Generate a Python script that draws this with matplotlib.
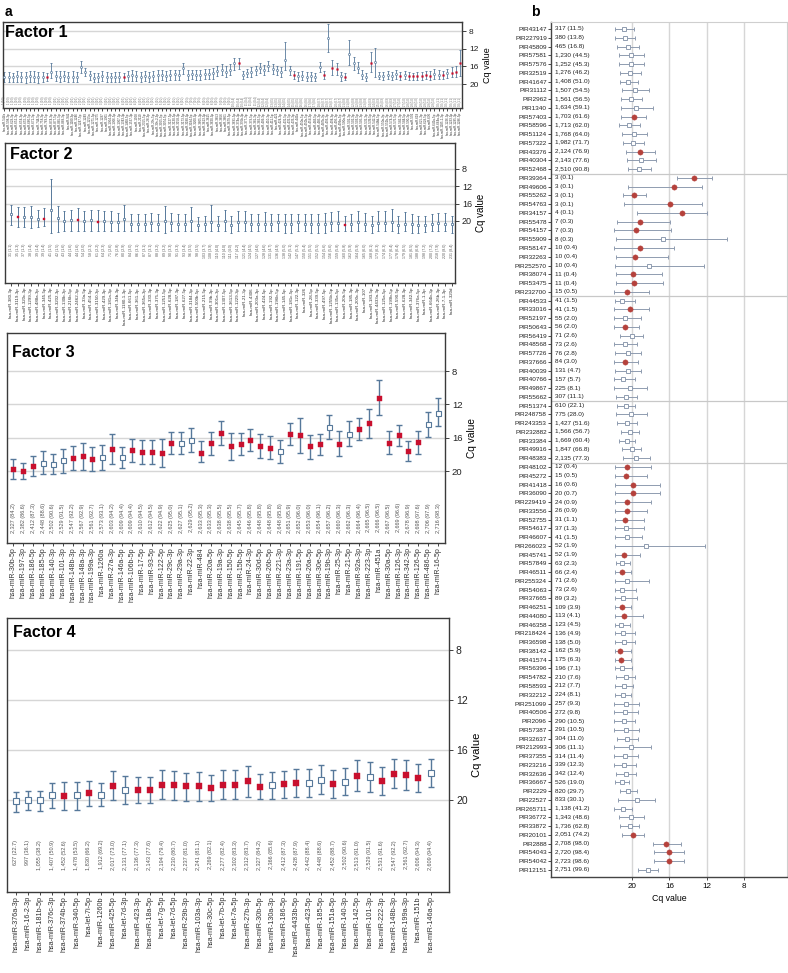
"""
Cq values of candidate reference miRNAs (factor panels) and piRNAs (panel b)
"""

### Import modules
import numpy as np
import matplotlib.pyplot as plt
import matplotlib.transforms as mtransforms

plt.rcParams['font.family'] = ['Liberation Sans', 'DejaVu Sans']

### Colours
RED = '#c8102e'
STEEL = '#56789a'
GRID = '#d6d6d6'
BRED = '#b5413b'
BGREY = '#8f9cb0'

###########################################################################
### Factor 1
f1_names = ('hsa-miR-544a hsa-miR-598-3p hsa-miR-628-3p hsa-miR-652-3p hsa-miR-654-3p '
            'hsa-miR-655-3p hsa-miR-660-5p hsa-miR-671-3p hsa-miR-744-5p hsa-miR-758-3p '
            'hsa-miR-769-5p hsa-miR-874-3p hsa-miR-877-5p hsa-miR-885-5p hsa-miR-889-3p '
            'hsa-miR-941 hsa-miR-1180-3p hsa-miR-1246 hsa-miR-1247-5p hsa-miR-1249 '
            'hsa-miR-1255a hsa-miR-1271-5p hsa-miR-1275 hsa-miR-1287 hsa-miR-1301 '
            'hsa-miR-1304-3p hsa-miR-1306-5p hsa-miR-1307-3p hsa-miR-1343-3p hsa-miR-1468-5p '
            'hsa-miR-1537-3p hsa-miR-1908 hsa-miR-2110 hsa-miR-2355-5p hsa-miR-28-3p '
            'hsa-miR-29c-5p hsa-miR-30c-2-3p hsa-miR-3065-5p hsa-miR-3074-5p hsa-miR-3127-5p '
            'hsa-miR-3130-5p hsa-miR-3158-3p hsa-miR-3173-5p hsa-miR-3180-3p hsa-miR-3184-5p '
            'hsa-miR-3200-3p hsa-miR-3605-3p hsa-miR-3613-3p hsa-miR-3615 hsa-miR-3620-3p '
            'hsa-miR-3653 hsa-miR-3656 hsa-miR-3661 hsa-miR-3679-5p hsa-miR-3691-5p '
            'hsa-miR-374a-3p hsa-miR-376b-3p hsa-miR-377-3p hsa-miR-379-5p hsa-miR-381-3p '
            'hsa-miR-382-5p hsa-miR-409-3p hsa-miR-410-3p hsa-miR-411-5p hsa-miR-421 '
            'hsa-miR-424-3p hsa-miR-431-5p hsa-miR-432-5p hsa-miR-433-3p hsa-miR-449a '
            'hsa-miR-450a-5p hsa-miR-450b-5p hsa-miR-454-3p hsa-miR-483-5p hsa-miR-485-3p '
            'hsa-miR-487b-3p hsa-miR-493-3p hsa-miR-494-3p hsa-miR-495-3p hsa-miR-499a-5p '
            'hsa-miR-500a-3p hsa-miR-501-3p hsa-miR-502-3p hsa-miR-503-5p hsa-miR-505-3p '
            'hsa-miR-532-3p hsa-miR-539-5p hsa-miR-542-3p hsa-miR-548d-5p hsa-miR-550a-3p '
            'hsa-miR-551b-3p hsa-miR-574-3p hsa-miR-576-5p hsa-miR-582-3p hsa-miR-584-5p '
            'hsa-miR-590-3p hsa-miR-592 hsa-miR-618 hsa-miR-625-3p hsa-miR-629-5p '
            'hsa-miR-636 hsa-miR-642a-5p hsa-miR-664a-3p hsa-miR-1185-1-3p hsa-miR-1226-3p '
            'hsa-miR-1233-3p hsa-miR-1285-3p hsa-miR-1296-5p').split()
f1_counts = [1,1,1,1,1,1,1,1,1,1,1,1,2,2,2,2,2,2,2,2,2,3,3,3,3,3,3,3,4,4,4,4,4,4,
             5,5,5,5,5,6,6,6,6,7,7,7,7,8,8,8,8,9,9,9,10,10,10,11,11,11,12,12,12,
             13,13,14,14,14,15,15,16,16,17,17,18,18,19,19,20,20,21,21,22,22,23,23,
             24,24,25,25,26,26,27,27,27,28,28,28,29,29,29,29,30,30,30,30,30,30]
f1_cq = [18.4,18.3,18.4,18.2,18.3,18.4,18.2,18.3,18.4,18.3,18.3,17.2,18.2,18.3,18.2,18.3,
         18.3,18.4,16.1,17.2,18.0,18.6,18.4,18.1,18.3,18.5,18.4,18.3,18.4,18.1,18.0,18.2,
         18.3,18.2,18.3,18.1,18.0,17.9,18.1,18.0,17.8,17.9,16.4,17.9,17.8,18.0,17.9,17.8,
         17.7,17.6,17.0,16.7,17.2,16.8,15.3,15.3,17.9,17.5,17.2,16.8,16.4,16.8,15.9,16.6,
         16.9,17.2,14.6,16.8,17.9,18.2,18.1,18.3,18.2,18.3,16.1,17.9,9.5,16.4,16.6,18.2,
         18.3,13.1,15.3,16.4,17.9,18.3,15.3,14.9,18.1,18.2,18.0,18.2,17.8,18.1,18.0,18.2,
         18.2,18.1,18.2,18.0,18.1,17.7,17.9,18.0,17.6,17.4,17.2,15.2]
f1_lo = [17.3,17.2,17.4,17.1,17.2,17.3,17.0,17.0,17.3,17.2,17.4,15.3,17.0,17.1,17.0,17.2,
         17.1,17.3,14.8,16.4,17.0,17.6,17.4,17.1,17.2,17.4,17.3,17.3,17.5,17.0,16.9,17.1,
         17.2,17.0,17.2,17.0,16.8,16.8,17.0,16.9,16.7,16.8,15.2,16.8,16.7,16.9,16.8,16.6,
         16.5,16.4,15.8,15.4,16.0,15.5,14.0,14.1,17.0,16.5,16.1,15.8,15.3,15.7,14.8,15.5,
         15.8,16.1,10.4,15.9,17.0,17.2,17.1,17.3,17.2,17.4,14.9,17.0,6.4,14.6,15.2,17.2,
         17.6,10.0,13.8,15.0,16.9,17.4,12.7,11.9,17.3,17.3,17.1,17.3,16.9,17.2,17.0,17.3,
         17.4,17.2,17.3,17.1,17.1,16.6,16.9,17.1,16.5,16.2,16.0,12.3]
f1_hi = [19.6,19.5,19.6,19.5,19.6,19.7,19.5,19.6,19.7,19.5,19.4,18.7,19.4,19.5,19.4,19.5,
         19.6,19.6,17.6,18.2,19.0,19.6,19.5,19.3,19.5,19.6,19.6,19.5,19.4,19.2,19.2,19.3,
         19.5,19.4,19.5,19.3,19.2,19.1,19.3,19.1,19.0,19.0,17.7,19.1,18.9,19.1,19.0,18.9,
         18.9,18.8,18.2,18.0,18.4,18.0,16.8,16.6,18.8,18.5,18.3,17.9,17.6,17.9,17.1,17.8,
         18.0,18.4,16.8,17.9,18.9,19.2,19.1,19.3,19.2,19.3,17.3,18.8,12.7,18.0,18.0,19.2,
         19.0,15.7,16.8,17.6,18.9,19.2,17.2,18.3,18.9,19.0,18.9,19.1,18.8,19.0,18.9,19.1,
         19.0,19.0,19.1,18.9,19.0,18.8,18.9,18.8,18.6,18.5,18.4,18.2]
f1_red = [10,28,55,68,75,77,78,80,86,93,95,96,97,98,99,100,103,105,106,107]

### Factor 2
f2_names = ('hsa-miR-380-3p hsa-miR-3119-3p hsa-miR-320c-3p hsa-miR-1299-3p hsa-miR-488a-3p '
            'hsa-miR-345-5p hsa-miR-425-3p hsa-miR-3202-3p hsa-miR-130b-3p hsa-miR-216b-5p '
            'hsa-miR-2462-3p hsa-miR-33a-5p hsa-miR-454-5p hsa-miR-3150-3p hsa-miR-429-3p '
            'hsa-miR-181a-3p hsa-miR-34b-3p hsa-miR-1180-1-3p hsa-miR-661-5p hsa-miR-361-3p '
            'hsa-miR-365a-3p hsa-miR-330-3p hsa-miR-375-3p hsa-miR-1251-5p hsa-miR-628-5p '
            'hsa-miR-187-3p hsa-miR-627-5p hsa-miR-3184-3p hsa-miR-500b-5p hsa-miR-215-5p '
            'hsa-miR-99b-3p hsa-miR-301a-3p hsa-miR-1307-5p hsa-miR-3613-5p hsa-miR-1229-3p '
            'hsa-miR-21-3p hsa-miR-4306 hsa-miR-203a-3p hsa-miR-424-5p hsa-miR-192-5p '
            'hsa-miR-196b-5p hsa-miR-145-5p hsa-miR-181c-5p hsa-miR-122-3p hsa-miR-326 '
            'hsa-miR-28-5p hsa-miR-339-5p hsa-miR-497-5p hsa-miR-1255b-5p hsa-miR-135a-5p '
            'hsa-miR-20b-5p hsa-miR-185-3p hsa-miR-200c-3p hsa-miR-107 hsa-miR-183-5p '
            'hsa-miR-4433a-3p hsa-miR-125a-5p hsa-miR-199b-5p hsa-miR-590-5p hsa-miR-628-3p '
            'hsa-miR-342-5p hsa-miR-376a-5p hsa-miR-1-3p hsa-miR-664b-3p hsa-miR-26b-3p '
            'hsa-miR-7-1-3p hsa-miR-320d').split()
f2_vals = ['31 (1.1)','35 (1.3)','37 (1.3)','38 (1.4)','39 (1.4)','39 (1.4)','41 (1.5)',
           '42 (1.5)','43 (1.6)','44 (1.6)','44 (1.6)','54 (2.0)','58 (2.1)','61 (2.2)',
           '64 (2.3)','71 (2.6)','76 (2.8)','80 (2.9)','84 (3.0)','86 (3.1)','87 (3.1)',
           '87 (3.1)','88 (3.2)','89 (3.2)','90 (3.3)','91 (3.3)','93 (3.4)','96 (3.5)',
           '98 (3.5)','103 (3.7)','108 (3.9)','110 (4.0)','110 (4.0)','111 (4.0)','117 (4.2)',
           '121 (4.4)','124 (4.5)','127 (4.6)','128 (4.6)','131 (4.7)','136 (4.9)','138 (5.0)',
           '142 (5.1)','147 (5.3)','150 (5.4)','151 (5.5)','152 (5.5)','154 (5.6)','156 (5.6)',
           '159 (5.8)','160 (5.8)','162 (5.9)','164 (5.9)','165 (6.0)','168 (6.1)','173 (6.3)',
           '174 (6.3)','177 (6.4)','178 (6.4)','179 (6.5)','181 (6.5)','188 (6.8)','198 (7.2)',
           '200 (7.2)','218 (7.9)','220 (8.0)','231 (8.4)']
f2_cq = [18.5,19.2,19.1,19.2,19.6,19.5,17.4,19.3,19.9,19.8,19.8,20.0,19.8,20.2,20.0,20.2,
         20.3,19.5,20.6,20.6,20.6,20.4,20.6,19.9,20.4,20.6,20.6,19.9,21.0,20.8,20.2,21.0,
         19.9,21.0,20.2,20.2,20.6,20.6,20.6,20.6,20.2,20.6,20.8,20.2,20.6,20.8,20.8,20.8,
         20.4,20.4,21.0,20.6,20.2,20.6,21.0,20.4,20.4,20.2,21.0,20.6,20.8,21.0,21.0,20.6,
         20.4,20.6,20.8]
f2_lo = [16.4,16.8,16.7,16.6,17.4,17.0,10.3,16.6,17.7,17.5,17.1,17.7,17.4,17.5,17.7,17.7,
         18.1,16.3,18.5,18.3,18.3,18.1,18.3,16.6,18.1,18.4,18.3,16.8,19.1,18.8,16.4,18.9,
         17.4,18.9,17.7,17.7,18.4,18.4,17.9,18.3,18.3,18.3,18.5,18.3,18.3,18.5,18.3,18.1,
         17.9,17.7,18.9,18.3,17.7,18.1,18.8,17.7,17.7,17.3,18.8,17.9,18.5,18.8,18.8,18.5,
         18.1,18.1,18.8]
f2_hi = [21.0,21.4,21.4,21.6,21.3,21.2,22.7,22.5,22.4,22.3,22.3,22.4,22.3,22.4,22.3,22.4,
         22.4,22.4,22.4,22.4,22.4,22.3,22.4,22.7,22.4,22.4,22.4,22.3,22.4,22.4,22.4,22.4,
         22.3,22.7,22.3,22.3,22.4,22.4,22.4,22.4,22.3,22.7,22.7,22.3,22.4,22.7,22.7,22.7,
         22.4,22.4,22.4,22.4,22.4,22.3,22.7,22.3,22.4,22.3,22.7,22.4,22.7,22.7,22.6,22.4,
         22.3,22.3,22.7]
f2_red = [1,5,10,13,50]

### Factor 3
f3_names = ['hsa-miR-30b-5p','hsa-miR-197-3p','hsa-miR-186-5p','hsa-miR-185-5p',
            'hsa-miR-140-3p','hsa-miR-101-3p','hsa-miR-148b-3p','hsa-miR-148a-3p',
            'hsa-miR-199a-3p','hsa-miR-1260a','hsa-miR-27a-3p','hsa-miR-146a-5p',
            'hsa-miR-106b-5p','hsa-miR-17-5p','hsa-miR-93-5p','hsa-miR-122-5p',
            'hsa-miR-29c-3p','hsa-miR-29a-3p','hsa-miR-22-3p','hsa-miR-484',
            'hsa-miR-20a-5p','hsa-miR-19a-3p','hsa-miR-150-5p','hsa-miR-15b-5p',
            'hsa-miR-24-3p','hsa-miR-30d-5p','hsa-miR-26b-5p','hsa-miR-221-3p',
            'hsa-miR-23a-3p','hsa-miR-191-5p','hsa-miR-26a-5p','hsa-miR-30e-5p',
            'hsa-miR-19b-3p','hsa-miR-25-3p','hsa-miR-21-5p','hsa-miR-92a-3p',
            'hsa-miR-223-3p','hsa-miR-451a','hsa-miR-30a-5p','hsa-miR-126-3p',
            'hsa-miR-342-3p','hsa-miR-126-5p','hsa-miR-486-5p','hsa-miR-16-5p']
f3_vals = ['2,327 (84.2)','2,382 (86.6)','2,412 (87.3)','2,448 (88.6)','2,502 (90.6)',
           '2,529 (91.5)','2,547 (92.2)','2,567 (92.9)','2,561 (92.7)','2,573 (93.1)',
           '2,603 (94.2)','2,609 (94.4)','2,609 (94.4)','2,610 (94.5)','2,612 (94.5)',
           '2,622 (94.9)','2,625 (95.0)','2,627 (95.1)','2,629 (95.2)','2,633 (95.3)',
           '2,633 (95.3)','2,638 (95.5)','2,638 (95.5)','2,645 (95.7)','2,646 (95.8)',
           '2,648 (95.8)','2,648 (95.8)','2,648 (95.8)','2,651 (95.9)','2,652 (96.0)',
           '2,653 (96.0)','2,654 (96.1)','2,657 (96.2)','2,660 (96.3)','2,662 (96.3)',
           '2,664 (96.4)','2,665 (96.5)','2,666 (96.5)','2,667 (96.5)','2,669 (96.6)',
           '2,678 (96.9)','2,698 (97.6)','2,706 (97.9)','2,716 (98.3)']
f3_cq = [19.68,19.96,19.36,18.96,19.16,18.68,18.4,18.16,18.48,18.28,17.28,18.28,17.48,
         17.68,17.68,17.76,16.6,16.6,16.2,17.76,16.6,15.4,16.96,16.68,16.2,16.96,17.16,
         17.56,15.56,15.68,17.0,16.72,14.68,16.68,15.48,14.88,14.2,11.2,16.56,15.68,17.56,
         16.48,14.36,12.96]
f3_lo = [18.48,18.96,18.16,17.56,17.92,17.28,16.96,16.6,17.12,16.88,15.56,17.08,16.12,
         16.28,16.28,16.08,15.28,15.28,14.76,16.4,15.32,13.96,15.4,15.4,14.88,15.48,15.8,
         16.2,14.2,13.6,15.68,15.48,13.28,15.2,14.0,13.56,12.48,9.08,15.2,14.48,16.36,
         15.2,12.88,11.28]
f3_hi = [20.88,20.96,20.56,20.36,20.36,20.2,19.88,19.8,19.96,19.8,19.08,19.56,18.88,
         19.08,19.08,19.48,17.96,17.96,17.68,18.88,18.0,16.88,18.68,18.0,17.56,18.4,18.56,
         19.0,16.88,17.76,18.48,18.0,16.08,18.16,17.0,16.2,15.96,13.28,17.96,16.96,18.8,
         17.88,15.88,14.6]
f3_red = [0,1,2,6,7,8,10,12,13,14,15,16,19,20,21,22,23,24,25,26,28,29,30,31,33,35,36,
          37,38,39,40,41]

### Factor 4
f4_names = ['hsa-miR-376a-3p','hsa-miR-16-2-3p','hsa-miR-181b-5p','hsa-miR-376c-3p',
            'hsa-miR-374b-5p','hsa-miR-340-5p','hsa-let-7i-5p','hsa-miR-1260b',
            'hsa-miR-425-5p','hsa-let-7d-3p','hsa-miR-423-3p','hsa-miR-18a-5p',
            'hsa-let-7g-5p','hsa-let-7d-5p','hsa-miR-29b-3p','hsa-miR-103a-3p',
            'hsa-miR-30c-5p','hsa-let-7b-5p','hsa-let-7a-5p','hsa-miR-27b-3p',
            'hsa-miR-30b-5p','hsa-miR-130a-3p','hsa-miR-186-5p','hsa-miR-4433b-5p',
            'hsa-miR-423-5p','hsa-miR-185-5p','hsa-miR-151a-5p','hsa-miR-140-3p',
            'hsa-miR-142-5p','hsa-miR-101-3p','hsa-miR-222-3p','hsa-miR-148b-3p',
            'hsa-miR-199a-3p','hsa-miR-151b','hsa-miR-146a-5p']
f4_vals = ['627 (22.7)','997 (36.1)','1,055 (38.2)','1,407 (50.9)','1,452 (52.6)',
           '1,478 (53.5)','1,830 (66.2)','1,912 (69.2)','2,017 (73.0)','2,131 (77.1)',
           '2,136 (77.3)','2,143 (77.6)','2,194 (79.4)','2,230 (80.7)','2,237 (81.0)',
           '2,241 (81.1)','2,269 (82.1)','2,277 (82.4)','2,302 (83.3)','2,312 (83.7)',
           '2,327 (84.2)','2,366 (85.6)','2,412 (87.3)','2,428 (87.9)','2,442 (88.4)',
           '2,448 (88.6)','2,452 (88.7)','2,502 (90.6)','2,513 (91.0)','2,529 (91.5)',
           '2,531 (91.6)','2,547 (92.2)','2,561 (92.7)','2,606 (94.3)','2,609 (94.4)']
f4_cq = [20.1,20.03,20.03,19.63,19.65,19.63,19.47,19.57,18.85,19.23,19.23,19.2,18.77,
         18.83,18.91,18.91,19.04,18.77,18.77,18.51,18.93,18.83,18.72,18.64,18.64,18.37,
         18.69,18.53,18.08,18.16,18.48,17.92,18.0,18.21,17.81]
f4_lo = [19.33,19.28,19.25,18.67,18.53,18.59,18.48,18.67,17.68,18.1,18.19,18.16,17.6,
         17.68,17.84,17.79,18.0,17.57,17.6,17.28,17.92,17.73,17.65,17.49,17.49,17.2,
         17.63,17.47,16.83,16.96,17.39,16.69,16.8,17.12,16.75]
f4_hi = [20.93,20.8,20.85,20.64,20.8,20.77,20.45,20.48,20.0,20.29,20.27,20.21,19.95,
         20.0,20.05,20.05,20.1,19.95,19.95,19.73,19.95,19.95,19.87,19.73,19.79,19.55,
         19.81,19.6,19.25,19.39,19.6,19.07,19.2,19.33,18.93]
f4_red = [4,6,8,10,11,12,13,14,15,16,17,18,19,20,22,23,26,28,30,31,32,33]

###########################################################################
### Panel b (piRNAs), grouped top to bottom
b_groups = [17, 14, 12, 7, 47]
b_names = ['PIR43147','PIR227919','PIR45809','PIR57581','PIR57576','PIR32519','PIR41647',
           'PIR31112','PIR2962','PIR1340','PIR57403','PIR58596','PIR51124','PIR57322',
           'PIR43376','PIR40304','PIR52468',
           'PIR39364','PIR49606','PIR55262','PIR54763','PIR34157','PIR55478','PIR54157',
           'PIR55909','PIR58147','PIR32263','PIR252570','PIR38074','PIR53475','PIR232700',
           'PIR44533','PIR33016','PIR52197','PIR50643','PIR56419','PIR48568','PIR57726',
           'PIR37666','PIR40039','PIR40766','PIR49867','PIR55662',
           'PIR51374','PIR248758','PIR243353','PIR232882','PIR33384','PIR49916','PIR48383',
           'PIR48102','PIR45272','PIR41418','PIR36090','PIR229419','PIR33556','PIR52755',
           'PIR54617','PIR46607','PIR266023','PIR45741','PIR57849','PIR46511','PIR255324',
           'PIR54063','PIR37665','PIR46251','PIR44080','PIR46358','PIR218424','PIR36598',
           'PIR38142','PIR41574','PIR56396','PIR54782','PIR58593','PIR32212','PIR251099',
           'PIR40506','PIR2096','PIR57387','PIR32637','PIR212993','PIR37355','PIR23216',
           'PIR32636','PIR36667','PIR2229','PIR22527','PIR265711','PIR36772','PIR33872',
           'PIR20101','PIR2888','PIR54043','PIR54042','PIR12151']
b_vals = ['317 (11.5)','380 (13.8)','465 (16.8)','1,230 (44.5)','1,252 (45.3)','1,276 (46.2)',
          '1,408 (51.0)','1,507 (54.5)','1,561 (56.5)','1,634 (59.1)','1,703 (61.6)',
          '1,713 (62.0)','1,768 (64.0)','1,982 (71.7)','2,124 (76.9)','2,143 (77.6)',
          '2,510 (90.8)',
          '3 (0.1)','3 (0.1)','3 (0.1)','3 (0.1)','4 (0.1)','7 (0.3)','7 (0.3)','8 (0.3)',
          '10 (0.4)','10 (0.4)','10 (0.4)','11 (0.4)','11 (0.4)','15 (0.5)',
          '41 (1.5)','41 (1.5)','55 (2.0)','56 (2.0)','71 (2.6)','73 (2.6)','76 (2.8)',
          '84 (3.0)','131 (4.7)','157 (5.7)','225 (8.1)','307 (11.1)',
          '610 (22.1)','775 (28.0)','1,427 (51.6)','1,566 (56.7)','1,669 (60.4)',
          '1,847 (66.8)','2,135 (77.3)',
          '12 (0.4)','15 (0.5)','16 (0.6)','20 (0.7)','24 (0.9)','26 (0.9)','31 (1.1)',
          '37 (1.3)','41 (1.5)','52 (1.9)','52 (1.9)','63 (2.3)','66 (2.4)','71 (2.6)',
          '73 (2.6)','89 (3.2)','109 (3.9)','113 (4.1)','123 (4.5)','136 (4.9)','138 (5.0)',
          '162 (5.9)','175 (6.3)','196 (7.1)','210 (7.6)','212 (7.7)','224 (8.1)',
          '257 (9.3)','272 (9.8)','290 (10.5)','291 (10.5)','304 (11.0)','306 (11.1)',
          '314 (11.4)','339 (12.3)','342 (12.4)','526 (19.0)','820 (29.7)','833 (30.1)',
          '1,138 (41.2)','1,343 (48.6)','1,736 (62.8)','2,051 (74.2)','2,708 (98.0)',
          '2,720 (98.4)','2,723 (98.6)','2,751 (99.6)']
b_cq = [20.85,20.78,20.46,20.07,20.07,20.21,20.42,19.65,20.07,19.54,19.79,20.32,19.75,19.9,
        19.19,19.04,19.26,
        13.38,15.47,19.75,15.93,14.65,19.19,19.61,16.64,19.19,19.65,18.2,19.9,19.79,20.53,
        21.06,20.21,20.81,20.78,20.04,20.78,20.46,20.74,20.46,20.96,20.25,20.64,
        20.67,20.07,20.53,20.28,20.57,20.04,19.58,
        20.6,20.64,19.93,19.93,20.53,20.57,20.78,20.71,20.6,18.48,20.85,21.06,21.13,20.6,
        21.13,20.96,21.13,20.85,21.24,20.96,20.88,21.27,21.24,21.06,20.71,20.92,21.03,
        20.71,20.74,20.92,20.71,20.53,20.11,20.81,20.88,20.64,21.06,20.39,19.5,20.96,
        20.11,20.25,19.89,16.35,16.04,16.04,18.34]
b_lo = [19.82,19.74,19.22,18.73,18.73,19.04,19.36,18.23,18.9,17.77,18.48,19.19,18.4,18.73,
        17.56,17.49,17.98,
        11.4,12.53,18.55,12.46,11.93,15.93,15.86,9.84,15.47,16.14,12.28,16.81,16.67,18.23,
        19.72,18.16,19.08,19.22,18.83,19.43,19.04,19.33,19.08,19.72,18.37,19.43,
        19.72,18.44,19.43,19.22,19.72,19.04,18.12,
        17.98,18.37,17.06,16.99,18.02,18.41,18.76,18.76,18.97,12.18,19.12,20.25,20.07,
        18.16,19.61,19.47,20.14,18.83,20.18,19.72,19.65,20.11,20.14,20.04,19.72,19.86,
        20.14,19.26,19.33,19.72,19.26,19.36,18.02,19.4,19.54,19.58,20.35,19.43,17.52,
        20.04,18.76,19.22,18.76,14.73,14.44,14.44,17.27]
b_hi = [21.84,21.84,21.63,21.38,21.38,21.31,21.35,21.1,21.24,21.24,21.17,21.42,21.1,20.99,
        20.67,20.6,20.46,
        15.15,20.42,20.96,20.88,19.47,21.6,21.9,21.77,21.9,21.73,21.84,21.77,21.73,21.9,
        21.84,21.9,21.9,21.9,21.27,21.9,21.84,21.9,21.8,21.9,21.9,21.77,
        21.59,21.7,21.66,21.24,21.42,21.06,20.99,
        21.84,21.84,21.84,21.84,21.84,21.84,21.84,21.84,21.84,21.84,21.84,21.77,21.84,
        21.84,21.84,21.84,21.84,21.84,21.84,21.84,21.84,21.84,21.84,21.84,21.77,21.84,
        21.84,21.9,21.9,21.9,21.95,21.66,21.9,21.9,21.9,21.73,21.8,21.31,21.49,21.95,
        21.45,21.27,21.06,17.81,17.66,17.63,19.36]
b_red = [0,0,0,0,0,0,0,0,0,0,1,0,0,0,1,0,0,
         1,1,1,1,1,1,1,0,1,1,0,1,1,1,
         0,1,0,1,0,0,0,1,0,0,0,0,
         0,0,0,0,0,0,0,
         1,1,1,1,1,1,1,0,0,0,1,0,1,0,0,0,1,1,0,0,0,1,1,0,0,0,0,0,0,0,0,0,0,0,0,0,0,0,
         0,0,0,0,1,1,1,1,0]


###########################################################################
### Plot helpers
def factor_panel(ax, title, cq, lo, hi, red, names, vals, ylim, xpad, ms, lw, cap,
                 fs_name, fs_val, val_top, title_xy, fs_cq):
    cq = np.asarray(cq)
    lo = np.asarray(lo)
    hi = np.asarray(hi)
    x = np.arange(len(cq))
    isred = np.zeros(len(cq), dtype=bool)
    isred[red] = True

    ax.errorbar(x, cq, yerr=[cq - lo, hi - cq], fmt='none', ecolor=STEEL,
                elinewidth=lw, capsize=cap, capthick=lw, zorder=2)
    ax.plot(x[~isred], cq[~isred], 's', ms=ms, mfc='white', mec=STEEL,
            mew=max(lw * 0.8, 0.5), zorder=3, ls='none')
    ax.plot(x[isred], cq[isred], 's', ms=ms, mfc=RED, mec=RED, mew=0.3,
            zorder=4, ls='none')

    ax.set_xlim(-xpad[0], len(cq) - 1 + xpad[1])
    ax.set_ylim(*ylim)
    ax.set_yticks([8, 12, 16, 20])
    ax.yaxis.tick_right()
    ax.yaxis.set_label_position('right')
    ax.set_ylabel('Cq value', fontsize=fs_cq, labelpad=3)
    ax.tick_params(axis='y', labelsize=fs_cq - 0.5, length=3, width=0.6,
                   colors='#222222', pad=2)
    ax.grid(axis='y', color=GRID, lw=1.0, zorder=0)
    ax.set_axisbelow(True)

    ax.set_xticks(x)
    ax.set_xticklabels(names, rotation=90, fontsize=fs_name, color='#333333')
    ax.tick_params(axis='x', length=2, width=0.5, pad=1)

    trans = mtransforms.blended_transform_factory(ax.transData, ax.transAxes)
    for i, s in enumerate(vals):
        ax.text(i, val_top, s, rotation=90, ha='center', va='top',
                fontsize=fs_val, color='#555555', transform=trans)

    ax.text(title_xy[0], title_xy[1], title, transform=ax.transAxes,
            fontsize=11.5, fontweight='bold', ha='left', va='top', zorder=5)
    for sp in ax.spines.values():
        sp.set_color('#3a3a3a')
        sp.set_linewidth(1.0)


###########################################################################
### Create plot
fig = plt.figure(figsize=(7.88, 9.73), dpi=100)

ax1 = fig.add_axes([0.004, 0.889, 0.5825, 0.0884])
factor_panel(ax1, 'Factor 1', f1_cq, f1_lo, f1_hi, f1_red, f1_names,
             ['%s (%.1f)' % (format(c, ','), c / 27.63) for c in f1_counts],
             (25.4, 5.96), (0.3, 0.5), 1.2, 0.6, 0.8, 2.2, 1.8, 0.13,
             (0.004, 0.97), 6.5)

ax2 = fig.add_axes([0.0063, 0.7092, 0.5711, 0.1439])
factor_panel(ax2, 'Factor 2', f2_cq, f2_lo, f2_hi, f2_red, f2_names, f2_vals,
             (34.3, 2.0), (0.9, 0.5), 2.0, 0.7, 1.0, 3.2, 2.6, 0.28,
             (0.012, 0.97), 7)

ax3 = fig.add_axes([0.0089, 0.4419, 0.5558, 0.2158])
factor_panel(ax3, 'Factor 3', f3_cq, f3_lo, f3_hi, f3_red, f3_names, f3_vals,
             (28.6, 3.44), (0.65, 0.7), 3.6, 1.0, 2.0, 5.0, 4.0, 0.19,
             (0.011, 0.945), 7.3)

ax4 = fig.add_axes([0.0089, 0.0833, 0.5609, 0.2816])
factor_panel(ax4, 'Factor 4', f4_cq, f4_lo, f4_hi, f4_red, f4_names, f4_vals,
             (27.36, 5.44), (0.7, 1.5), 4.0, 1.0, 2.4, 5.2, 4.0, 0.19,
             (0.013, 0.975), 8)

### Panel b
axb = fig.add_axes([0.6992, 0.0987, 0.2995, 0.8787])
b_cq = np.asarray(b_cq)
b_lo = np.asarray(b_lo)
b_hi = np.asarray(b_hi)
b_isred = np.asarray(b_red, dtype=bool)
rows = np.arange(len(b_cq))

axb.errorbar(b_cq, rows, xerr=[b_cq - b_lo, b_hi - b_cq], fmt='none', ecolor=BGREY,
             elinewidth=0.7, capsize=1.6, capthick=0.7, zorder=2)
axb.plot(b_cq[~b_isred], rows[~b_isred], 's', ms=2.6, mfc='white', mec=BGREY,
         mew=0.7, zorder=3)
axb.plot(b_cq[b_isred], rows[b_isred], 'o', ms=3.8, mfc=BRED, mec=BRED, mew=0.3,
         zorder=4)

axb.set_xlim(28.7, 3.4)
axb.set_ylim(len(b_cq) - 0.2, -0.8)
axb.set_xticks([20, 16, 12, 8])
axb.grid(axis='x', color=GRID, lw=1.0, zorder=0)
axb.set_axisbelow(True)
axb.set_yticks(rows)
axb.set_yticklabels(b_names, fontsize=4.6, color='#222222')
axb.tick_params(axis='y', length=2, width=0.5, pad=1)
axb.tick_params(axis='x', labelsize=5.8, length=2.5, width=0.5, pad=2)
axb.set_xlabel('Cq value', fontsize=6.3, labelpad=3)

for sep in np.cumsum(b_groups)[:-1]:
    axb.axhline(sep - 0.5, color='#c8c8c8', lw=0.9, zorder=1)

transb = mtransforms.blended_transform_factory(axb.transAxes, axb.transData)
for i, s in enumerate(b_vals):
    axb.text(0.018, i, s, fontsize=4.6, color='#222222', va='center', ha='left',
             transform=transb)

axb.spines['left'].set_color('#444444')
axb.spines['bottom'].set_color('#444444')
axb.spines['left'].set_linewidth(1.0)
axb.spines['bottom'].set_linewidth(1.0)
axb.spines['top'].set_color('#cfcfcf')
axb.spines['right'].set_color('#cfcfcf')

### Panel letters
fig.text(0.006, 0.995, 'a', fontsize=10, fontweight='bold', va='top', ha='left')
fig.text(0.674, 0.995, 'b', fontsize=10, fontweight='bold', va='top', ha='left')

plt.savefig('out.png', dpi=100)
